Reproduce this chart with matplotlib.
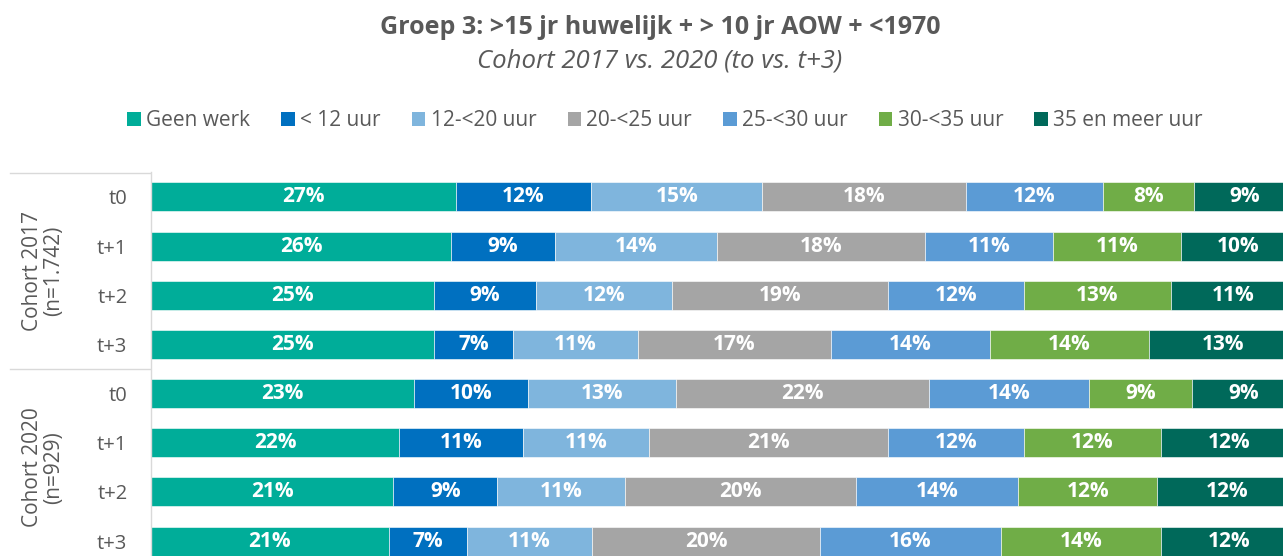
import matplotlib
matplotlib.use("Agg")
import matplotlib.pyplot as plt
from matplotlib.patches import Patch
from matplotlib.lines import Line2D
import numpy as np

plt.rcParams['font.family'] = ['Open Sans', 'DejaVu Sans']

# ---- data ----
row_labels = ["t0", "t+1", "t+2", "t+3", "t0", "t+1", "t+2", "t+3"]
groups = ["Cohort 2017\n(n=1.742)", "Cohort 2020\n(n=929)"]
series = ["Geen werk", "< 12 uur", "12-<20 uur", "20-<25 uur",
          "25-<30 uur", "30-<35 uur", "35 en meer uur"]
geen_werk   = [26.9, 26.5, 25.0, 25.0, 23.2, 21.9, 21.4, 21.0]
lt_12       = [12.0, 9.2, 9.0, 7.0, 10.1, 11.0, 9.2, 6.9]
u12_20      = [15.1, 14.3, 12.0, 11.0, 13.1, 11.1, 11.3, 11.1]
u20_25      = [18.0, 18.4, 19.1, 17.1, 22.3, 21.1, 20.4, 20.1]
u25_30      = [12.1, 11.3, 12.0, 14.0, 14.2, 12.0, 14.3, 16.0]
u30_35      = [8.0, 11.3, 13.0, 14.1, 9.1, 12.1, 12.3, 14.1]
u35_plus    = [9.0, 10.1, 11.0, 13.0, 9.0, 12.0, 12.3, 12.0]
values = [geen_werk, lt_12, u12_20, u20_25, u25_30, u30_35, u35_plus]
colors = ["#00AD99", "#0070C0", "#7FB5DD", "#A5A5A5", "#5B9BD5", "#70AD47", "#00695A"]

W, H = 1284, 556
fig = plt.figure(figsize=(W / 100, H / 100), dpi=100)
ax_left, ax_right, ax_top = 151, 1283, 172.4
ax = fig.add_axes([ax_left / W, 0, (ax_right - ax_left) / W, (H - ax_top) / H])

rows = np.arange(len(row_labels))
left = np.zeros(len(rows))
for name, vals, col in zip(series, values, colors):
    vals = np.array(vals)
    ax.barh(rows, vals, left=left, height=0.59, color=col, edgecolor="white",
            linewidth=0.4, label=name)
    for r, v, l in zip(rows, vals, left):
        ax.text(l + v / 2, r, f"{int(round(v))}%", ha="center", va="center",
                color="white", fontsize=15, fontweight="bold")
    left = left + vals

ax.set_xlim(0, 100)
ax.set_ylim(7.305, -0.5)
ax.set_yticks(rows)
ax.set_yticklabels(row_labels, fontsize=14.5, color="#595959")
ax.tick_params(axis="y", length=0, pad=17)
ax.set_xticks([])
for s in ["top", "right", "bottom"]:
    ax.spines[s].set_visible(False)
ax.spines["left"].set_color("#D9D9D9")
ax.spines["left"].set_linewidth(1.0)

# group separator lines in label area
for ypx in [172.7, 369.0]:
    fig.add_artist(Line2D([10 / W, 150 / W], [1 - ypx / H, 1 - ypx / H],
                          color="#D9D9D9", lw=1.0))

# group labels
for gi, g in enumerate(groups):
    yc = (gi * 4 + 1.5)
    ax.text(-(151 - 43) / (ax_right - ax_left) * 100, yc, g, rotation=90,
            ha="center", va="center", fontsize=15, color="#595959",
            multialignment="center", linespacing=1.05, clip_on=False)

# title
fig.text(660 / W, 1 - 27 / H, "Groep 3: >15 jr huwelijk + > 10 jr AOW + <1970",
         ha="center", va="center", fontsize=18, fontweight="bold", color="#595959")
fig.text(660 / W, 1 - 61 / H, "Cohort 2017 vs. 2020 (to vs. t+3)",
         ha="center", va="center", fontsize=18.5, style="italic", color="#595959")

handles = [Patch(facecolor=c, edgecolor="none", label=s) for s, c in zip(series, colors)]
leg = fig.legend(handles=handles, loc="center", bbox_to_anchor=(665 / W, 1 - 121 / H),
                 ncol=7, frameon=False, fontsize=15, handlelength=0.65, handleheight=0.65,
                 handletextpad=0.25, columnspacing=1.5)
for t in leg.get_texts():
    t.set_color("#595959")

fig.savefig("out.png", dpi=100)
